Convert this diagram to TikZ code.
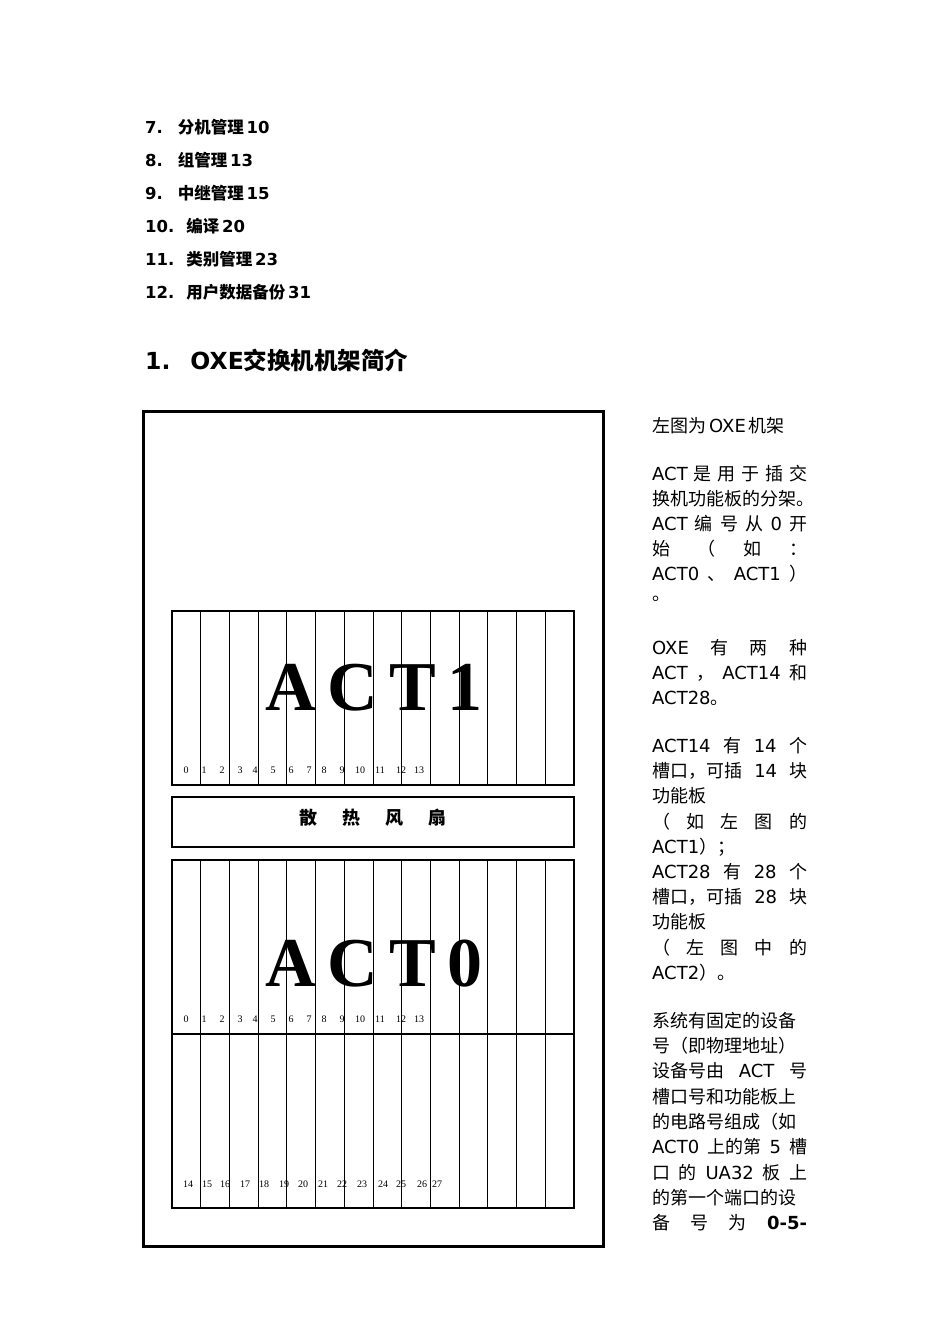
\documentclass[tikz,border=0pt]{standalone}
\usepackage{fontspec}
\setmainfont{DejaVu Sans}
\newfontfamily\zh{Noto Sans CJK SC}
\newfontfamily\sr{Liberation Serif}
\newcommand\jl[1]{\makebox[155pt][s]{#1}}
\begin{document}
\begin{tikzpicture}[x=1pt,y=-1pt,
  toc/.style={anchor=west,font=\bfseries\fontsize{16.5}{18}\selectfont,inner sep=0},
  tx/.style={anchor=west,font=\fontsize{18}{20}\selectfont,inner sep=0},
  num/.style={font=\sr\fontsize{10}{11}\selectfont,inner sep=0},
  big/.style={font=\sr\bfseries\fontsize{70}{74}\selectfont,inner sep=0}]
\useasboundingbox (0,0) rectangle (950,1344);
% TOC
\node[toc] (t7) at (145,127) {7.\hspace{15pt}{\zh\bfseries 分机管理}\,10};
\node[toc] (t8) at (145,160) {8.\hspace{15pt}{\zh\bfseries 组管理}\,13};
\node[toc] (t9) at (145,193) {9.\hspace{15pt}{\zh\bfseries 中继管理}\,15};
\node[toc] (t10) at (145,226) {10.\hspace{12pt}{\zh\bfseries 编译}\,20};
\node[toc] (t11) at (145,259) {11.\hspace{12pt}{\zh\bfseries 类别管理}\,23};
\node[toc] (t12) at (145,292) {12.\hspace{12pt}{\zh\bfseries 用户数据备份}\,31};
\node[anchor=west,inner sep=0,font=\bfseries\fontsize{23.5}{26}\selectfont] (h1) at (145,360) {1.\hspace{20pt}OXE{\zh\bfseries 交换机机架简介}};
% rack
\draw[line width=3pt] (143,411) rectangle (603,1246);
\draw[line width=2pt] (172,611) rectangle (574,785);
\draw[line width=2pt] (172,797) rectangle (574,847);
\draw[line width=2pt] (172,860) rectangle (574,1208);
\draw[line width=1.2pt] (172,1034) -- (574,1034);
\foreach \i in {1,...,13}{
  \draw[line width=1pt] ({172+\i*402/14},611) -- ({172+\i*402/14},785);
  \draw[line width=1pt] ({172+\i*402/14},860) -- ({172+\i*402/14},1208);
}
\node[big] (a1) at (374,688) {A\,C\,T\,1};
\node[big] (a0) at (374,964) {A\,C\,T\,0};
\node[font=\zh\bfseries\fontsize{18}{20}\selectfont] (fan) at (373,818) {散\hspace{25pt}热\hspace{25pt}风\hspace{25pt}扇};
\foreach \n/\x in {0/186,1/204,2/222,3/240,4/255,5/273,6/291,7/309,8/324,9/342,10/360,11/380,12/401,13/419}{
  \node[num] at (\x,770) {\n};
  \node[num] at (\x,1019) {\n};
}
\foreach \n/\x in {14/188,15/207,16/225,17/245,18/264,19/284,20/303,21/323,22/342,23/362,24/383,25/401,26/422,27/437}{
  \node[num] at (\x,1184) {\n};
}
% text column
\node[tx] at (652,426) {{\zh 左图为}\,OXE\,{\zh 机架}};
\node[tx] at (652,474) {\jl{ACT\hfill{\zh 是}\hfill{\zh 用}\hfill{\zh 于}\hfill{\zh 插}\hfill{\zh 交}}};
\node[tx] at (652,499) {\zh 换机功能板的分架。};
\node[tx] at (652,524) {\jl{ACT\hfill{\zh 编}\hfill{\zh 号}\hfill{\zh 从}\hfill 0\hfill{\zh 开}}};
\node[tx] at (652,549) {\jl{{\zh 始}\hfill{\zh （}\hfill{\zh 如}\hfill{\zh ：}}};
\node[tx] at (652,574) {\jl{ACT0\hfill{\zh 、}\hfill ACT1\hfill{\zh ）}}};
\node[tx] at (652,599) {\zh 。};
\node[tx] at (652,648) {\jl{OXE\hfill{\zh 有}\hfill{\zh 两}\hfill{\zh 种}}};
\node[tx] at (652,673) {\jl{ACT\hfill{\zh ，}\hfill ACT14\hfill{\zh 和}}};
\node[tx] at (652,698) {ACT28{\zh 。}};
\node[tx] at (652,746) {\jl{ACT14\hfill{\zh 有}\hfill 14\hfill{\zh 个}}};
\node[tx] at (652,771) {\jl{{\zh 槽口，可插}\hfill 14\hfill{\zh 块}}};
\node[tx] at (652,796) {\zh 功能板};
\node[tx] at (652,822) {\jl{{\zh （}\hfill{\zh 如}\hfill{\zh 左}\hfill{\zh 图}\hfill{\zh 的}}};
\node[tx] at (652,847) {ACT1{\zh ）；}};
\node[tx] at (652,872) {\jl{ACT28\hfill{\zh 有}\hfill 28\hfill{\zh 个}}};
\node[tx] at (652,897) {\jl{{\zh 槽口，可插}\hfill 28\hfill{\zh 块}}};
\node[tx] at (652,922) {\zh 功能板};
\node[tx] at (652,948) {\jl{{\zh （}\hfill{\zh 左}\hfill{\zh 图}\hfill{\zh 中}\hfill{\zh 的}}};
\node[tx] at (652,973) {ACT2{\zh ）。}};
\node[tx] at (652,1021) {\zh 系统有固定的设备};
\node[tx] at (652,1046) {\zh 号（即物理地址）};
\node[tx] at (652,1071) {\jl{{\zh 设备号由}\hfill ACT\hfill{\zh 号}}};
\node[tx] at (652,1097) {\zh 槽口号和功能板上};
\node[tx] at (652,1122) {\zh 的电路号组成（如};
\node[tx] at (652,1147) {\jl{ACT0\hfill{\zh 上的第}\hfill 5\hfill{\zh 槽}}};
\node[tx] at (652,1173) {\jl{{\zh 口}\hfill{\zh 的}\hfill UA32\hfill{\zh 板}\hfill{\zh 上}}};
\node[tx] at (652,1198) {\zh 的第一个端口的设};
\node[tx] at (652,1223) {\jl{{\zh 备}\hfill{\zh 号}\hfill{\zh 为}\hfill\textbf{0-5-}}};
\end{tikzpicture}
\end{document}
